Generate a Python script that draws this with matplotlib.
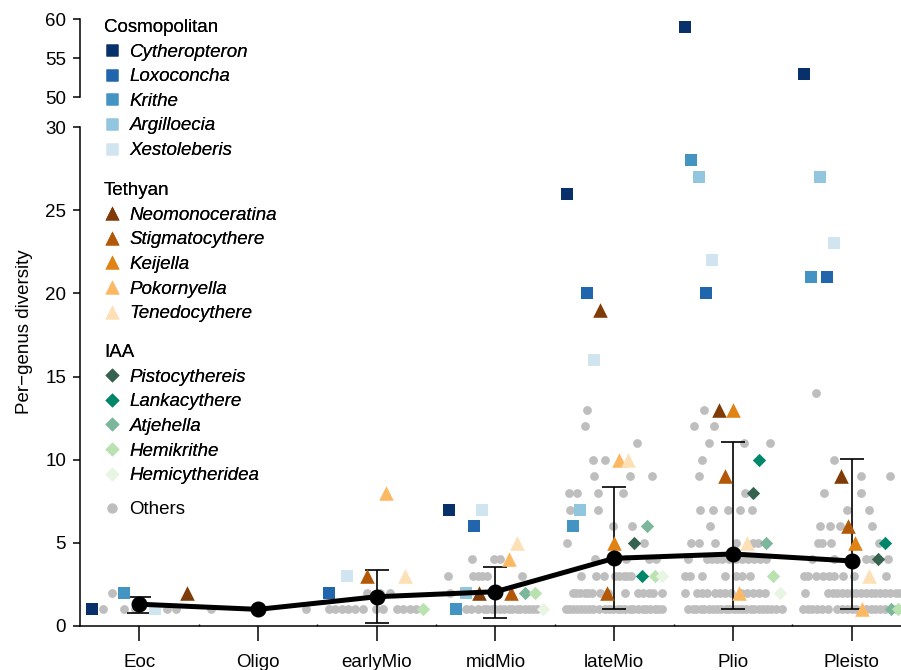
import matplotlib
matplotlib.use("Agg")
import matplotlib.pyplot as plt
from matplotlib.lines import Line2D
import numpy as np

plt.rcParams["font.family"] = ["Liberation Sans", "DejaVu Sans"]

periods = ["Eoc", "Oligo", "earlyMio", "midMio", "lateMio", "Plio", "Pleisto"]

# mean per-genus diversity and error bar ends for each period
mean_div = [1.31, 1.0, 1.76, 2.06, 4.07, 4.33, 3.91]
err_low = [0.80, 1.0, 0.16, 0.50, 1.0, 1.0, 1.0]
err_high = [1.76, 1.0, 3.37, 3.57, 8.38, 11.05, 10.06]

# highlighted genera: (period index, jitter, diversity)
# Cosmopolitan
cytheropteron = [(0, -0.40, 1), (3, -0.39, 7), (4, -0.40, 26), (5, -0.40, 59), (6, -0.40, 53)]
loxoconcha = [(2, -0.40, 2), (3, -0.18, 6), (4, -0.23, 20), (5, -0.23, 20), (6, -0.21, 21)]
krithe = [(0, -0.13, 2), (3, -0.33, 1), (4, -0.35, 6), (5, -0.35, 28), (6, -0.34, 21)]
argilloecia = [(3, -0.25, 2), (4, -0.29, 7), (5, -0.29, 27), (6, -0.27, 27)]
xestoleberis = [(0, 0.13, 1), (2, -0.25, 3), (3, -0.11, 7), (4, -0.17, 16), (5, -0.18, 22), (6, -0.15, 23)]
# Tethyan
neomonoceratina = [(0, 0.40, 2), (3, -0.14, 2), (4, -0.12, 19), (5, -0.12, 13), (6, -0.09, 9)]
stigmatocythere = [(2, -0.08, 3), (3, 0.13, 2), (4, -0.06, 2), (5, -0.07, 9), (6, -0.03, 6)]
keijella = [(4, 0.0, 5), (5, 0.0, 13), (6, 0.03, 5)]
pokornyella = [(2, 0.08, 8), (3, 0.11, 4), (4, 0.04, 10), (5, 0.05, 2), (6, 0.09, 1)]
tenedocythere = [(2, 0.24, 3), (3, 0.18, 5), (4, 0.12, 10), (5, 0.12, 5), (6, 0.15, 3)]
# IAA
pistocythereis = [(4, 0.17, 5), (5, 0.17, 8), (6, 0.22, 4)]
lankacythere = [(4, 0.23, 3), (5, 0.22, 10), (6, 0.28, 5)]
atjehella = [(3, 0.25, 2), (4, 0.28, 6), (5, 0.28, 5), (6, 0.33, 1)]
hemikrithe = [(2, 0.39, 1), (3, 0.33, 2), (4, 0.34, 3), (5, 0.34, 3), (6, 0.39, 1)]
hemicytheridea = [(3, 0.40, 1), (4, 0.40, 3), (5, 0.40, 2)]

# other genera per period: (jitter, diversity)
others_eoc = [(-0.23, 2), (-0.31, 1), (-0.13, 1), (-0.04, 1), (0.23, 1), (0.31, 1)]
others_oligo = [(-0.40, 1), (0.02, 1), (0.40, 1)]
others_earlymio = [(-0.08, 2), (0.03, 2), (0.11, 2),
                   (-0.40, 1), (-0.35, 1), (-0.29, 1), (-0.24, 1), (-0.18, 1), (-0.12, 1),
                   (-0.01, 1), (0.05, 1), (0.17, 1), (0.22, 1), (0.28, 1), (0.33, 1)]
others_midmio = [(-0.20, 4), (-0.01, 4), (0.04, 4),
                 (-0.40, 3), (-0.19, 3), (-0.15, 3), (-0.11, 3), (-0.07, 3), (0.22, 3),
                 (-0.38, 2), (-0.04, 2),
                 (-0.25, 1), (-0.21, 1), (-0.15, 1), (-0.10, 1), (-0.07, 1), (-0.03, 1),
                 (0.00, 1), (0.04, 1), (0.07, 1), (0.11, 1), (0.14, 1), (0.18, 1),
                 (0.21, 1), (0.25, 1), (0.28, 1), (0.32, 1), (0.35, 1)]
others_latemio = [(-0.23, 13), (-0.25, 12), (0.19, 11), (-0.18, 10), (-0.08, 10),
                  (-0.17, 9), (0.13, 9), (0.32, 9),
                  (-0.38, 8), (-0.31, 8), (-0.14, 8), (0.07, 8),
                  (-0.37, 7), (-0.14, 7), (-0.01, 6), (0.15, 6), (-0.40, 5), (0.25, 5),
                  (-0.16, 4), (0.10, 4), (0.29, 4), (0.35, 4),
                  (-0.28, 3), (-0.15, 3), (-0.09, 3), (0.01, 3), (0.04, 3), (0.08, 3), (0.11, 3), (0.14, 3),
                  (-0.35, 2), (-0.32, 2), (-0.29, 2), (-0.25, 2), (-0.22, 2), (-0.19, 2), (-0.12, 2),
                  (-0.05, 2), (0.09, 2), (0.20, 2), (0.24, 2), (0.29, 2), (0.33, 2), (0.40, 2),
                  (-0.41, 1), (-0.38, 1), (-0.35, 1), (-0.31, 1), (-0.28, 1), (-0.25, 1), (-0.21, 1),
                  (-0.18, 1), (-0.13, 1), (-0.08, 1), (-0.04, 1), (-0.01, 1), (0.03, 1), (0.06, 1),
                  (0.09, 1), (0.13, 1), (0.16, 1), (0.20, 1), (0.24, 1), (0.27, 1), (0.30, 1),
                  (0.34, 1), (0.37, 1), (0.40, 1)]
others_plio = [(-0.24, 13), (-0.33, 12), (-0.16, 12), (-0.20, 11), (0.09, 11), (0.31, 11),
               (-0.26, 10), (-0.29, 9), (0.10, 8),
               (-0.28, 7), (-0.17, 7), (-0.04, 7), (0.06, 7), (0.16, 7), (-0.19, 6),
               (-0.35, 5), (-0.29, 5), (-0.15, 5), (0.03, 5), (0.17, 5), (0.21, 5),
               (-0.38, 4), (-0.22, 4), (-0.18, 4), (-0.13, 4), (-0.09, 4), (-0.03, 4), (0.03, 4),
               (0.08, 4), (0.13, 4), (0.18, 4), (0.23, 4), (0.28, 4),
               (-0.40, 3), (-0.36, 3), (-0.26, 3), (-0.07, 3), (0.03, 3), (0.08, 3), (0.14, 3),
               (-0.40, 2), (-0.30, 2), (-0.26, 2), (-0.22, 2), (-0.15, 2), (-0.11, 2), (-0.07, 2),
               (-0.02, 2), (0.07, 2), (0.12, 2), (0.17, 2), (0.22, 2), (0.27, 2),
               (-0.38, 1), (-0.34, 1), (-0.31, 1), (-0.27, 1), (-0.24, 1), (-0.20, 1), (-0.17, 1),
               (-0.13, 1), (-0.10, 1), (-0.06, 1), (-0.03, 1), (0.01, 1), (0.04, 1), (0.08, 1),
               (0.11, 1), (0.15, 1), (0.18, 1), (0.22, 1), (0.25, 1), (0.29, 1), (0.32, 1),
               (0.36, 1), (0.41, 1)]
others_pleisto = [(-0.30, 14), (-0.15, 10), (0.08, 9), (0.32, 9), (-0.23, 8), (0.08, 8),
                  (-0.04, 7), (0.15, 7), (-0.27, 6), (-0.18, 6), (-0.10, 6), (0.17, 6),
                  (-0.28, 5), (-0.25, 5), (-0.17, 5), (0.23, 5),
                  (-0.33, 4), (-0.15, 4), (0.12, 4), (0.17, 4), (0.31, 4),
                  (-0.40, 3), (-0.37, 3), (-0.30, 3), (-0.24, 3), (-0.19, 3), (-0.15, 3),
                  (-0.07, 3), (0.02, 3), (0.29, 3),
                  (-0.39, 2), (-0.20, 2), (-0.16, 2), (-0.12, 2), (-0.08, 2), (-0.04, 2), (0.00, 2),
                  (0.04, 2), (0.08, 2), (0.12, 2), (0.16, 2), (0.20, 2), (0.24, 2), (0.28, 2),
                  (0.32, 2), (0.37, 2), (0.41, 2),
                  (-0.41, 1), (-0.37, 1), (-0.33, 1), (-0.29, 1), (-0.25, 1), (-0.20, 1),
                  (-0.12, 1), (-0.08, 1), (-0.04, 1), (0.00, 1), (0.04, 1), (0.12, 1), (0.16, 1),
                  (0.20, 1), (0.24, 1), (0.28, 1), (0.37, 1), (0.41, 1)]

others = [others_eoc, others_oligo, others_earlymio, others_midmio,
          others_latemio, others_plio, others_pleisto]

groups = [
    ("Cosmopolitan", "s", 74, [
        ("Cytheropteron", cytheropteron, "#08306b"),
        ("Loxoconcha", loxoconcha, "#2166ac"),
        ("Krithe", krithe, "#4393c3"),
        ("Argilloecia", argilloecia, "#92c5de"),
        ("Xestoleberis", xestoleberis, "#d1e5f0"),
    ]),
    ("Tethyan", "^", 110, [
        ("Neomonoceratina", neomonoceratina, "#7f3b08"),
        ("Stigmatocythere", stigmatocythere, "#b35806"),
        ("Keijella", keijella, "#e08214"),
        ("Pokornyella", pokornyella, "#fdb863"),
        ("Tenedocythere", tenedocythere, "#fee0b6"),
    ]),
    ("IAA", "D", 46, [
        ("Pistocythereis", pistocythereis, "#35634f"),
        ("Lankacythere", lankacythere, "#00876a"),
        ("Atjehella", atjehella, "#7cb69b"),
        ("Hemikrithe", hemikrithe, "#b9e2b0"),
        ("Hemicytheridea", hemicytheridea, "#e8f5e2"),
    ]),
]
gray = "#bebebe"

# broken y axis: 0-30 linear, gap, then 50-60 compressed
y_in = [0, 30, 50, 60, 80]
y_out = [0, 30, 31.8, 36.49, 45.87]


def fwd(y):
    return np.interp(y, y_in, y_out)


def inv(y):
    return np.interp(y, y_out, y_in)


fig = plt.figure(figsize=(9.01, 6.70), dpi=100)
ax = fig.add_axes([80 / 901, 44 / 670, 831 / 901, 614.7 / 670])
ax.set_yscale("function", functions=(fwd, inv))
ax.set_xlim(-0.5, 6.5)
ax.set_ylim(0, 61)

# other genera
for i, pts in enumerate(others):
    xs = [i + p[0] for p in pts]
    ys = [p[1] for p in pts]
    ax.scatter(xs, ys, s=40, color=gray, linewidths=0, zorder=1)

# error bars (skip zero-width)
xb = [i for i in range(len(periods)) if err_high[i] > err_low[i]]
mb = np.array([mean_div[i] for i in xb])
lo = np.array([err_low[i] for i in xb])
hi = np.array([err_high[i] for i in xb])
ax.errorbar(xb, mb, yerr=[mb - lo, hi - mb], fmt="none", ecolor="black",
            elinewidth=1.2, capsize=8.5, capthick=1.2, zorder=2)

# highlighted genera
for gname, marker, size, members in groups:
    for name, pts, col in members:
        xs = [p[0] + p[1] for p in pts]
        ys = [p[2] for p in pts]
        ax.scatter(xs, ys, s=size, marker=marker, color=col, linewidths=0, zorder=3)

# mean line
ax.plot(range(len(periods)), mean_div, color="black", lw=3.6, marker="o",
        ms=10.5, zorder=5)

# axes styling
for sp in ["top", "right"]:
    ax.spines[sp].set_visible(False)
ax.spines["left"].set_bounds(0, 30)
ax.spines["left"].set_linewidth(1.1)
ax.spines["bottom"].set_linewidth(1.1)
ax.plot([0, 0], [50, 60], transform=ax.get_yaxis_transform(), color="black",
        lw=1.1, clip_on=False)

ax.set_yticks([0, 5, 10, 15, 20, 25, 30, 50, 55, 60])
ax.set_yticklabels(["0", "5", "10", "15", "20", "25", "30", "50", "55", "60"])
ax.set_xticks(range(len(periods)))
ax.set_xticklabels(periods)
ax.set_xticks(np.arange(0.5, 6.5, 1), minor=True)
ax.yaxis.set_minor_locator(matplotlib.ticker.NullLocator())
ax.tick_params(axis="y", labelsize=13.5, length=5, width=1.1, pad=5)
ax.tick_params(axis="x", which="major", labelsize=13.5, length=10.5, width=1.1, pad=10)
ax.tick_params(axis="x", which="minor", length=1.5, width=1.0, direction="in")

ax.set_ylabel("Per\u2212genus diversity", fontsize=13.5)
ax.yaxis.set_label_coords(-0.057, 0.478)

# legends
tops = [19, 182, 344]
for (gname, marker, size, members), top in zip(groups, tops):
    handles = [Line2D([], [], ls="none", marker=marker, color=col, mec="none",
                      markersize=np.sqrt(size)) for name, pts, col in members]
    labels = [name for name, pts, col in members]
    leg = fig.legend(handles, labels, title=gname, loc="upper left",
                     bbox_to_anchor=(104 / 901, 1 - top / 670),
                     bbox_transform=fig.transFigure, frameon=False,
                     prop={"style": "italic", "size": 13.5}, title_fontsize=13.5,
                     alignment="left", handlelength=0.8, handletextpad=0.56,
                     labelspacing=0.4, borderpad=0, borderaxespad=0)
    fig.add_artist(leg)

oh = [Line2D([], [], ls="none", marker="o", color=gray, mec="none", markersize=7.5)]
fig.legend(oh, ["Others"], loc="upper left", bbox_to_anchor=(104 / 901, 1 - 501 / 670),
           bbox_transform=fig.transFigure, frameon=False, prop={"size": 13.5},
           handlelength=0.8, handletextpad=0.56, borderpad=0, borderaxespad=0)

fig.savefig("out.png", dpi=100)
